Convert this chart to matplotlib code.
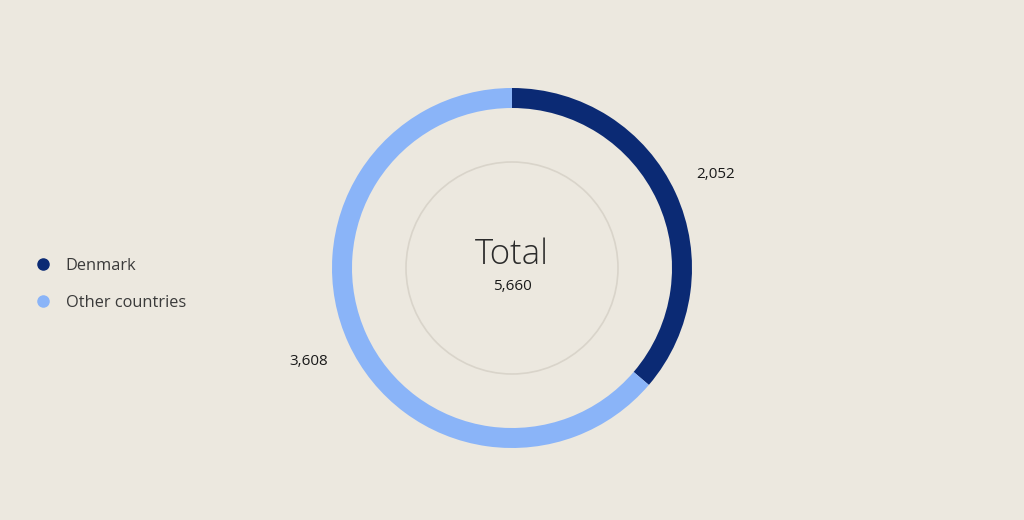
import matplotlib
matplotlib.use("Agg")
import matplotlib.pyplot as plt
from matplotlib.lines import Line2D
from matplotlib.patches import Circle
import numpy as np

categories = ["Denmark", "Other countries"]
values = [2052, 3608]
total_label = "Total"
total_value = sum(values)

colors = ["#0b2a74", "#8ab4f8"]
bg = "#ece8df"

plt.rcParams['font.family'] = ['Open Sans', 'DejaVu Sans']

fig = plt.figure(figsize=(10.24, 5.2), dpi=100, facecolor=bg)
ax = fig.add_axes([0, 0, 1, 1])
ax.set_facecolor(bg)

cx, cy, R, W = 512, 252, 180, 20
wedges, _ = ax.pie(values, colors=colors, startangle=90, counterclock=False,
                   center=(cx, cy), radius=R, wedgeprops=dict(width=W, linewidth=0),
                   frame=True)
ax.set_xlim(0, 1024)
ax.set_ylim(0, 520)
ax.set_aspect('equal')
ax.axis('off')

ax.add_patch(Circle((cx, cy), 106, fill=False, edgecolor="#d9d4ca", linewidth=1.2))

# slice labels
start = 90.0
for v in values:
    sweep = 360.0 * v / total_value
    mid = start - sweep / 2
    start -= sweep
    a = np.deg2rad(mid)
    r = R + 44
    x, y = cx + r * np.cos(a), cy + r * np.sin(a)
    ax.text(x, y, f"{v:,}", ha='center', va='center', fontsize=11, color="#1a1a1a")

ax.text(cx, cy + 13, total_label, ha='center', va='center', fontsize=25,
        fontweight='light', color="#2b2b2b")
ax.text(cx, cy - 18, f"{total_value:,}", ha='center', va='center', fontsize=11,
        color="#1a1a1a")

handles = [Line2D([], [], marker='o', linestyle='', color=c, markersize=8) for c in colors]
leg = fig.legend(handles, categories, loc='center left', bbox_to_anchor=(0.02, 0.453),
                 frameon=False, fontsize=11.8, handletextpad=0.85, labelspacing=1.3,
                 handlelength=1.0)
for t in leg.get_texts():
    t.set_color("#3a3a3a")

fig.savefig("out.png", dpi=100, facecolor=bg)
